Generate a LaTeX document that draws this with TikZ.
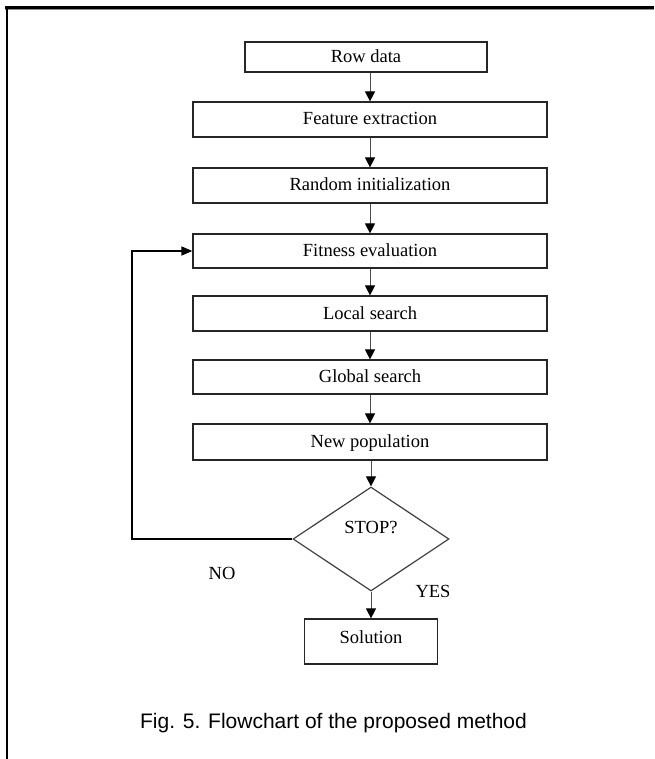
\documentclass[tikz,border=0pt]{standalone}
\usepackage{fontspec}
\setmainfont{Liberation Serif}
\newfontfamily\capfont{Liberation Sans}
\usetikzlibrary{arrows.meta,shapes.geometric}
\tikzset{
	stepbox/.style={draw=black!85, line width=1.2pt, rectangle, minimum width=354pt, minimum height=35pt, inner sep=0pt, text height=12pt, text depth=1pt, font=\fontsize{18.5}{20}\selectfont},
	flow/.style={draw=black!70, line width=1pt, -{Triangle[length=10pt,width=10pt,black]}},
	tag/.style={font=\fontsize{18.5}{20}\selectfont},
}

\begin{document}
\begin{tikzpicture}[x=1pt,y=-1pt]
				\useasboundingbox (0,0) rectangle (654,759);
				\draw[line width=1pt, black!45] (5,9.5) -- (654,9.5);
				\draw[line width=2.2pt] (5,7.5) -- (654,7.5);
				\draw[line width=2pt] (6.5,6.5) -- (6.5,759);
				
				\node[stepbox, minimum width=242pt, minimum height=30pt] (row) at (366,57) {Row data};
				\node[stepbox] (feat) at (370,119.5) {Feature extraction};
				\node[stepbox] (rand) at (370,185.5) {Random initialization};
				\node[stepbox, minimum height=34pt] (fit) at (370,251) {Fitness evaluation};
				\node[stepbox] (loc) at (370,313.5) {Local search};
				\node[stepbox, minimum height=34pt] (glob) at (370,377) {Global search};
				\node[stepbox, minimum height=36pt] (newpop) at (370,442) {New population};
				
				\node[draw=black!75, line width=1.2pt, diamond, minimum width=156pt, minimum height=104pt, inner sep=0pt, text height=12pt, text depth=24pt, font=\fontsize{18.5}{20}\selectfont] (stop) at (371,539) {STOP?};
				\node[stepbox, minimum width=133pt, minimum height=45pt, text height=13pt, text depth=10pt] (sol) at (371,641.5) {Solution};
				
				\node[tag] (no) at (222,573) {NO};
				\node[tag] (yes) at (433,591.5) {YES};
				
				\draw[flow] (feat.north |- row.south) -- (feat.north);
				\draw[flow] (feat) -- (rand);
				\draw[flow] (rand) -- (fit);
				\draw[flow] (fit) -- (loc);
				\draw[flow] (loc) -- (glob);
				\draw[flow] (glob) -- (newpop);
				\draw[flow] (newpop.south -| stop.north) -- (stop.north);
				\draw[flow] (stop) -- (sol);
				
				\coordinate (back) at (132,400);
				\draw[line width=1.5pt, -{Triangle[length=11pt,width=9pt]}] (stop.west) -| (back) |- (fit.west);
				
				\node[font=\capfont\fontsize{21}{24}\selectfont, anchor=base] (cap) at (333.5,728) {Fig. 5. Flowchart of the proposed method};
			\end{tikzpicture}
\end{document}
